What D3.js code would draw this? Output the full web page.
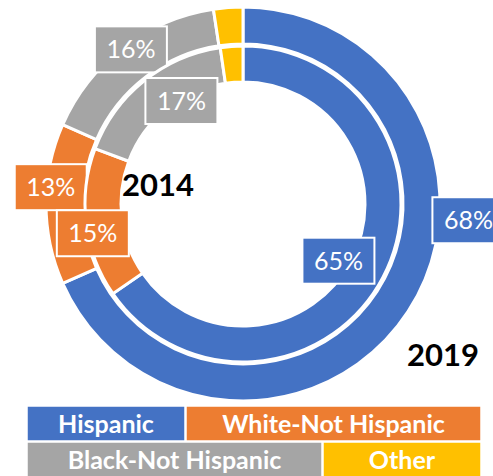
<!DOCTYPE html>
<html>
<head>
<meta charset="utf-8">
<title>Donut 2014 / 2019</title>
<script src="https://cdn.jsdelivr.net/npm/d3@7"></script>
<style>
  body { margin: 0; background: #fff; }
  text { font-family: Lato, "Open Sans", sans-serif; }
</style>
</head>
<body>
<script>
var categories = ["Hispanic", "White-Not Hispanic", "Black-Not Hispanic", "Other"];
var values2019 = [68.4, 13.2, 16.0, 2.4];
var values2014 = [65.4, 15.3, 17.0, 2.3];
var years = ["2019", "2014"];

var colors = ["#4472C4", "#ED7D31", "#A5A5A5", "#FFC000"];

var W = 493, H = 476;
var cx = 243, cy = 204;

var svg = d3.select("body").append("svg")
    .attr("width", W)
    .attr("height", H);

var color = d3.scaleOrdinal().domain(categories).range(colors);

var pie = d3.pie().sort(null).value(function(d) { return d.v; });

var rings = [
  { year: years[0], values: values2019, inner: 160, outer: 197 },
  { year: years[1], values: values2014, inner: 122, outer: 158 }
];

// where each label box sits: angle shift (deg) from slice middle, radius
var labelPlace = [
  [{ da: -29, r: 226 }, { da: 5, r: 193 }, { da: 1.5, r: 191 }, null],
  [{ da: 3, r: 111 }, { da: -4, r: 153 }, { da: 8, r: 120 }, null]
];

var g = svg.append("g").attr("transform", "translate(" + cx + "," + cy + ")");

rings.forEach(function(ring, ri) {
  var arcs = pie(ring.values.map(function(v, i) { return { c: categories[i], v: v }; }));
  var arc = d3.arc().innerRadius(ring.inner).outerRadius(ring.outer);

  g.append("g").selectAll("path")
    .data(arcs)
    .join("path")
    .attr("d", arc)
    .attr("fill", function(d) { return color(d.data.c); })
    .attr("stroke", "#fff")
    .attr("stroke-width", 3);

  var labs = g.append("g").selectAll("g")
    .data(arcs.filter(function(d, i) { return labelPlace[ri][i]; }))
    .join("g")
    .attr("transform", function(d) {
      var p = labelPlace[ri][d.index];
      var a = (d.startAngle + d.endAngle) / 2 + p.da * Math.PI / 180;
      return "translate(" + (p.r * Math.sin(a)) + "," + (-p.r * Math.cos(a)) + ")";
    });

  labs.append("rect")
    .attr("x", -36).attr("y", -23)
    .attr("width", 72).attr("height", 46)
    .attr("fill", function(d) { return color(d.data.c); })
    .attr("stroke", "#fff")
    .attr("stroke-width", 2);

  labs.append("text")
    .attr("text-anchor", "middle")
    .attr("dy", "0.36em")
    .attr("fill", "#fff")
    .style("font-size", "25px")
    .text(function(d) { return Math.round(d.data.v) + "%"; });
});

// year titles
svg.append("text")
  .attr("x", 158).attr("y", 196)
  .attr("text-anchor", "middle")
  .style("font-size", "31px").style("font-weight", "bold")
  .text(years[1]);

svg.append("text")
  .attr("x", 443).attr("y", 366)
  .attr("text-anchor", "middle")
  .style("font-size", "31px").style("font-weight", "bold")
  .text(years[0]);

// legend
var legendRows = [
  [{ i: 0, x: 27, w: 158 }, { i: 1, x: 186, w: 295 }],
  [{ i: 2, x: 27, w: 295 }, { i: 3, x: 323, w: 158 }]
];
var rowY = [406, 442], rowH = 35;

legendRows.forEach(function(row, r) {
  var lg = svg.append("g").selectAll("g")
    .data(row)
    .join("g");
  lg.append("rect")
    .attr("x", function(d) { return d.x; })
    .attr("y", rowY[r])
    .attr("width", function(d) { return d.w; })
    .attr("height", rowH)
    .attr("fill", function(d) { return colors[d.i]; })
    .attr("stroke", "#fff")
    .attr("stroke-width", 1.5);
  lg.append("text")
    .attr("x", function(d) { return d.x + d.w / 2; })
    .attr("y", rowY[r] + rowH / 2)
    .attr("dy", "0.36em")
    .attr("text-anchor", "middle")
    .attr("fill", "#fff")
    .style("font-size", "25px").style("font-weight", "bold")
    .text(function(d) { return categories[d.i]; });
});
</script>
</body>
</html>
